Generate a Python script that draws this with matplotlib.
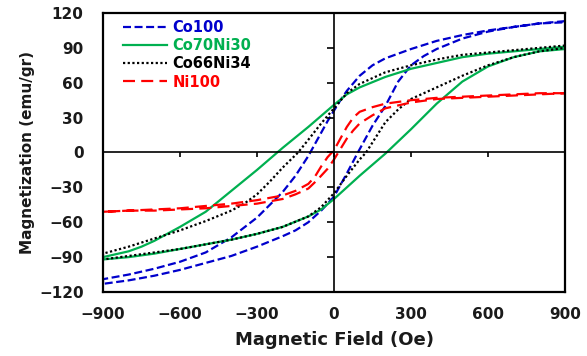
import matplotlib
matplotlib.use('Agg')
import matplotlib.pyplot as plt
import numpy as np

plt.rcParams['font.family'] = ['DejaVu Sans']

# ---------------- data (Oe, emu/gr) ----------------
# Co100: descending branch (+900 -> -900) and ascending branch (-900 -> +900)
co100_desc_H = [900, 800, 700, 600, 500, 400, 300, 200, 150, 100, 50, 25, 0, -25, -50, -100, -150, -200, -300, -400, -500, -600, -700, -800, -900]
co100_desc_M = [113, 111, 108, 105, 101, 96, 89, 81, 75, 66, 53, 45, 36, 27, 17, -3, -20, -34, -56, -73, -86, -94, -100, -105, -109]
co100_asc_H = [-900, -800, -700, -600, -500, -400, -300, -200, -150, -100, -50, 0, 50, 93, 150, 200, 250, 300, 350, 400, 500, 600, 700, 800, 900]
co100_asc_M = [-113, -110, -106, -101, -95, -89, -81, -72, -67, -60, -50, -38, -18, 0, 23, 40, 61, 75, 83, 89, 98, 104, 108, 111, 112]

# Co70Ni30
co70_desc_H = [900, 800, 700, 600, 500, 400, 300, 200, 100, 50, 0, -100, -200, -300, -400, -500, -600, -700, -750, -800, -900]
co70_desc_M = [91, 89, 87, 85, 82, 77, 72, 65, 56, 50, 41, 22, 4, -15, -33, -51, -64, -76, -81, -85, -90]
co70_asc_H = [-900, -800, -700, -600, -500, -400, -300, -200, -100, -50, 0, 100, 200, 300, 400, 500, 600, 700, 800, 900]
co70_asc_M = [-92, -90, -87, -83, -79, -75, -70, -64, -55, -49, -40, -20, -1, 20, 42, 61, 74, 82, 87, 89]

# Co66Ni34
co66_desc_H = [900, 800, 700, 600, 500, 400, 300, 200, 100, 50, 0, -50, -100, -140, -200, -250, -300, -350, -400, -500, -600, -700, -800, -900]
co66_desc_M = [92, 90, 88, 86, 84, 80, 75, 69, 59, 51, 38, 25, 11, 0, -13, -25, -36, -44, -50, -59, -67, -74, -81, -87]
co66_asc_H = [-900, -800, -700, -600, -500, -400, -300, -200, -100, -50, 0, 50, 100, 125, 200, 250, 300, 400, 500, 600, 700, 800, 900]
co66_asc_M = [-92, -89, -86, -83, -79, -75, -70, -64, -55, -47, -35, -20, -6, 0, 26, 37, 46, 56, 66, 75, 82, 87, 90]

# Ni100
ni_desc_H = [900, 800, 700, 600, 500, 400, 300, 200, 150, 100, 75, 50, 25, 0, -25, -50, -75, -100, -150, -200, -300, -400, -500, -600, -700, -800, -900]
ni_desc_M = [51, 51, 50, 49, 48, 47, 45, 42, 39, 35, 30, 22, 12, 2, -4, -12, -21, -27, -33, -37, -41, -44, -46, -48, -49, -50, -51]
ni_asc_H = [-900, -800, -700, -600, -500, -400, -300, -200, -150, -100, -67, -50, -25, 0, 25, 50, 75, 100, 150, 200, 300, 400, 500, 600, 700, 800, 900]
ni_asc_M = [-51, -50, -50, -49, -48, -46, -44, -40, -36, -31, -24, -20, -14, -6, 3, 12, 19, 25, 32, 38, 43, 46, 47, 48, 49, 50, 51]

labels = ['Co100', 'Co70Ni30', 'Co66Ni34', 'Ni100']
colors = ['#0000CC', '#00B050', '#000000', '#FF0000']

x_ticks = [-900, -600, -300, 0, 300, 600, 900]
y_ticks = [-120, -90, -60, -30, 0, 30, 60, 90, 120]

# ---------------- figure ----------------
fig = plt.figure(figsize=(5.87, 3.56), dpi=100)
pos = [0.1755, 0.1798, 0.787, 0.7837]
ax = fig.add_axes(pos)

series = [
    (co100_desc_H, co100_desc_M, co100_asc_H, co100_asc_M),
    (co70_desc_H, co70_desc_M, co70_asc_H, co70_asc_M),
    (co66_desc_H, co66_desc_M, co66_asc_H, co66_asc_M),
    (ni_desc_H, ni_desc_M, ni_asc_H, ni_asc_M),
]
styles = [
    dict(linestyle=(0, (3.6, 1.6))),
    dict(linestyle='-'),
    dict(linestyle=(0, (1, 1.1))),
    dict(linestyle=(0, (5.4, 2.8))),
]
lines = []
for (dh, dm, ah, am), lab, col, st in zip(series, labels, colors, styles):
    H = np.concatenate([dh, ah])
    M = np.concatenate([dm, am])
    ln, = ax.plot(H, M, color=col, lw=1.6, label=lab, **st)
    lines.append(ln)

ax.set_xlim(-900, 900)
ax.set_ylim(-120, 120)
ax.set_xticks(x_ticks)
ax.set_yticks(y_ticks)
ax.tick_params(length=0, labelsize=11, labelcolor='#1a1a1a')
ax.tick_params(axis='x', pad=11)
ax.tick_params(axis='y', pad=14)
for lbl in ax.get_xticklabels() + ax.get_yticklabels():
    lbl.set_fontweight('bold')
for s in ax.spines.values():
    s.set_linewidth(1.6)
    s.set_color('black')

ax.set_xlabel('Magnetic Field (Oe)', fontsize=13, fontweight='bold', color='#1a1a1a')
ax.set_ylabel('Magnetization (emu/gr)', fontsize=11, fontweight='bold', color='#1a1a1a')
ax.xaxis.set_label_coords(0.5, -0.14)
ax.yaxis.set_label_coords(-0.147, 0.5)

# zero-crossing axes with ticks
ax2 = fig.add_axes(pos, sharex=ax, sharey=ax)
ax2.patch.set_visible(False)
ax2.spines['top'].set_visible(False)
ax2.spines['right'].set_visible(False)
ax2.spines['left'].set_position('zero')
ax2.spines['bottom'].set_position('zero')
ax2.spines['left'].set_linewidth(1.2)
ax2.spines['bottom'].set_linewidth(1.2)
ax2.tick_params(labelleft=False, labelbottom=False, direction='out', width=1.2)
ax2.tick_params(axis='y', length=5)
ax2.tick_params(axis='x', length=3.5)

leg = ax.legend(loc='upper left', bbox_to_anchor=(0.043, 0.975), frameon=False,
                handlelength=3.0, handletextpad=0.4, labelspacing=0.22,
                borderaxespad=0, borderpad=0,
                prop={'weight': 'bold', 'size': 10.5})
for txt, col in zip(leg.get_texts(), colors):
    txt.set_color(col)

fig.savefig('out.png', dpi=100)
